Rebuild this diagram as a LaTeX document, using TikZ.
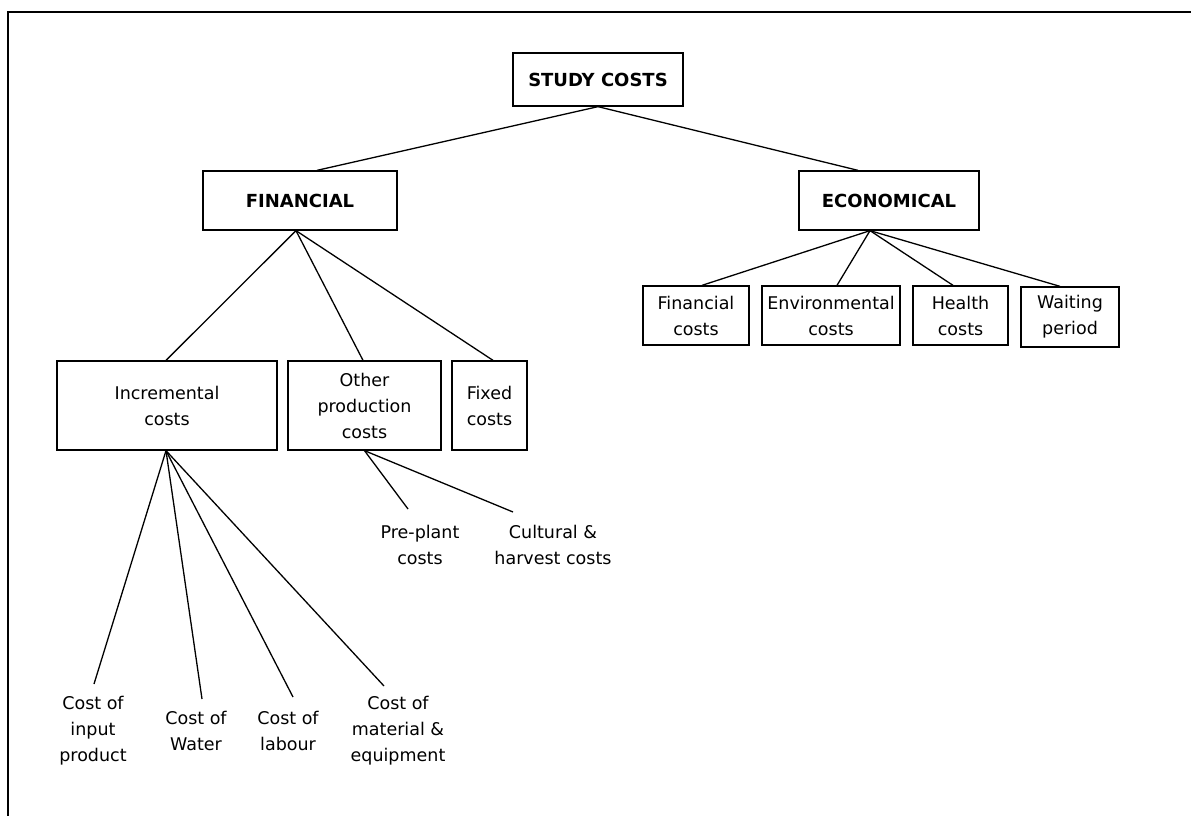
\documentclass[tikz,border=0pt]{standalone}
\usepackage{fontspec}
\setmainfont{DejaVu Sans}
\begin{document}
\begin{tikzpicture}[x=1pt,y=-1pt,
  conn/.style={line width=1.3pt},
  box/.style={draw,line width=1.3pt,inner sep=0pt,align=center,font=\fontsize{17.5}{26}\selectfont},
  title/.style={box,font=\fontsize{18}{26}\selectfont\bfseries},
  leaf/.style={inner sep=0pt,align=center,font=\fontsize{17.5}{26}\selectfont}]
\useasboundingbox (0,0) rectangle (1191,816);
\draw[line width=1.3pt] (1191,12) -- (8,12) -- (8,816);
% titles
\node[title,minimum width=170pt,minimum height=53pt] (study) at (598,79.5) {STUDY COSTS};
\node[title,minimum width=194pt,minimum height=59pt] (fin) at (300,200.5) {FINANCIAL};
\node[title,minimum width=180pt,minimum height=59pt] (eco) at (889,200.5) {ECONOMICAL};
% economical children
\node[box,minimum width=106pt,minimum height=59pt] (fc) at (696,315.5) {Financial\\costs};
\node[box,minimum width=138pt,minimum height=59pt] (env) at (831,315.5) {Environmental\\costs};
\node[box,minimum width=95pt,minimum height=59pt] (hc) at (960.5,315.5) {Health\\costs};
\node[box,minimum width=98pt,minimum height=60pt] (wp) at (1070,317) {Waiting\\period};
% financial children
\node[box,minimum width=220pt,minimum height=89pt] (inc) at (167,405.5) {Incremental\\costs};
\node[box,minimum width=153pt,minimum height=89pt] (oth) at (364.5,405.5) {Other\\production\\costs};
\node[box,minimum width=75pt,minimum height=89pt] (fix) at (489.5,405.5) {Fixed\\costs};
% leaves
\node[leaf] (inp) at (93,731) {Cost of\\input\\product};
\node[leaf] (wat) at (196,731) {Cost of\\Water};
\node[leaf] (lab) at (288,731) {Cost of\\labour};
\node[leaf] (mat) at (398,731) {Cost of\\material \&\\equipment};
\node[leaf] (pre) at (420,544.5) {Pre-plant\\costs};
\node[leaf] (cul) at (553,544.5) {Cultural \&\\harvest costs};
% line ends
\coordinate (einp) at (94,684);
\coordinate (ewat) at (202,699);
\coordinate (elab) at (293,697);
\coordinate (emat) at (384,686);
\coordinate (epre) at (408,509);
\coordinate (ecul) at (513,512);
% connectors
\draw[conn] (study.south) -- ([xshift=17pt]fin.north);
\draw[conn] (study.south) -- ([xshift=-31pt]eco.north);
\draw[conn] ([xshift=-4pt]fin.south) -- ([xshift=-1pt]inc.north);
\draw[conn] ([xshift=-4pt]fin.south) -- ([xshift=-1.5pt]oth.north);
\draw[conn] ([xshift=-4pt]fin.south) -- ([xshift=3.5pt]fix.north);
\draw[conn] ([xshift=-19pt]eco.south) -- ([xshift=6pt]fc.north);
\draw[conn] ([xshift=-19pt]eco.south) -- ([xshift=6pt]env.north);
\draw[conn] ([xshift=-19pt]eco.south) -- ([xshift=-7.5pt]hc.north);
\draw[conn] ([xshift=-19pt]eco.south) -- ([xshift=-10pt]wp.north);
\draw[conn] ([xshift=-1pt]inc.south) -- (einp);
\draw[conn] ([xshift=-1pt]inc.south) -- (ewat);
\draw[conn] ([xshift=-1pt]inc.south) -- (elab);
\draw[conn] ([xshift=-1pt]inc.south) -- (emat);
\draw[conn] (oth.south) -- (epre);
\draw[conn] (oth.south) -- (ecul);
\end{tikzpicture}
\end{document}
